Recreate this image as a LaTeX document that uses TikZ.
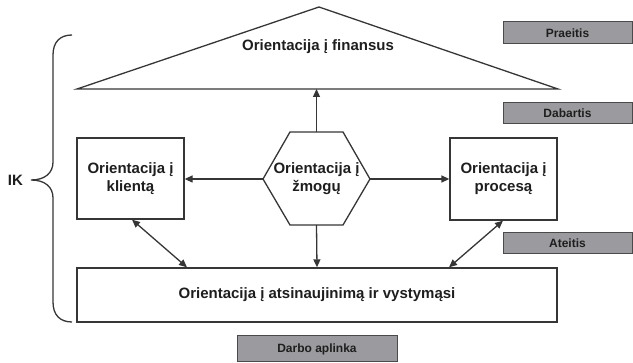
\documentclass[tikz,border=0pt]{standalone}
\usepackage{fontspec}
\setmainfont{Liberation Sans}
\usetikzlibrary{arrows.meta}
\definecolor{linegray}{HTML}{363636}
\definecolor{erafill}{HTML}{9B9B9F}
\definecolor{eraedge}{HTML}{4A4A4A}
\definecolor{ink}{HTML}{1E1E1E}
\begin{document}
\begin{tikzpicture}[x=1pt,y=-1pt,
  line/.style={draw=linegray, line width=1.3pt},
  label/.style={text=ink, align=center, inner sep=0pt,
    font=\bfseries\fontsize{15}{18}\selectfont},
  box/.style={line, label, fill=white},
  era/.style={draw=eraedge, fill=erafill, line width=1pt, inner sep=0pt,
    text=ink, font=\bfseries\fontsize{12}{14}\selectfont},
  link/.style={line, -{Triangle[length=8pt,width=7pt]}},
  both/.style={line, {Triangle[length=8pt,width=7pt]}-{Triangle[length=8pt,width=7pt]}},
]
\useasboundingbox (0,0) rectangle (633,363);

% finance triangle
\draw[line, line join=miter] (77,89) -- (319,7) -- (558,89) -- cycle;
\coordinate (finbase) at (316.5,89);
\node[label] (fin) at (318,47) {Orientacija į finansus};

% central hexagon
\draw[line, fill=white] (263,179) -- (290,132) -- (343,132) -- (370,179)
  -- (343,225) -- (290,225) -- cycle;
\coordinate (hexT) at (316.5,132);
\coordinate (hexB) at (316.5,225);
\coordinate (hexL) at (263,179);
\coordinate (hexR) at (370,179);
\node[label] (hex) at (316.5,179) {Orientacija į\\žmogų};

% side and bottom boxes
\node[box, minimum width=107pt, minimum height=81pt] (klient) at (130.5,178.5)
  {Orientacija į\\klientą};
\node[box, minimum width=107pt, minimum height=82pt] (proces) at (503.5,179)
  {Orientacija į\\procesą};
\node[box, minimum width=480pt, minimum height=54pt] (renew) at (317,295)
  {Orientacija į atsinaujinimą ir vystymąsi};

% time and environment labels
\node[era, minimum width=129pt, minimum height=22pt] (past) at (567.5,33) {Praeitis};
\node[era, minimum width=129pt, minimum height=21pt] (now) at (567.5,113.5) {Dabartis};
\node[era, minimum width=129pt, minimum height=21pt] (future) at (567.5,243.5) {Ateitis};
\node[era, minimum width=160pt, minimum height=26pt] (env) at (317,349) {Darbo aplinka};

% connectors
\draw[link] (hexT) -- (finbase);
\draw[link] (hexL) -- (klient.east |- hexL);
\draw[link] (hexR) -- (proces.west |- hexR);
\draw[link] (hexB) -- (renew.north);
\draw[both] ([xshift=1.5pt]klient.south) -- ([xshift=-130pt]renew.north);
\draw[both] ([xshift=-0.5pt]proces.south) -- ([xshift=132pt]renew.north);

% IK brace
\node[text=ink, inner sep=0pt, font=\bfseries\fontsize{15}{17}\selectfont] (ik) at (15.5,180) {IK};
\draw[line] (72,35) .. controls (60,35) and (53,42) .. (53,55) -- (53,162)
  .. controls (53,173) and (45,180) .. (31,180)
  .. controls (45,180) and (53,187) .. (53,198) -- (53,302)
  .. controls (53,315) and (60,322) .. (72,322);
\end{tikzpicture}
\end{document}
